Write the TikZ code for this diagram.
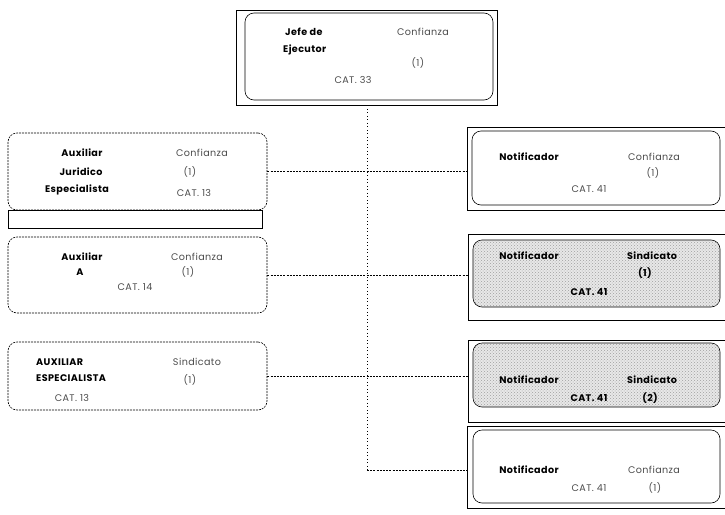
\documentclass[tikz,border=0pt]{standalone}
\usepackage{fontspec}
\setmainfont{Poppins}[LetterSpace=4]
\usetikzlibrary{patterns}
\begin{document}
\begin{tikzpicture}[x=1pt,y=-1pt,
  outerbox/.style={draw, line width=0.8pt, inner sep=0pt},
  roundbox/.style={draw, rounded corners=9pt, line width=0.6pt, inner sep=0pt},
  shadebox/.style={roundbox, fill=gray!18, postaction={pattern=crosshatch dots, pattern color=gray!75}},
  leftbox/.style={draw, rounded corners=9pt, line width=0.6pt, inner sep=0pt, dash pattern=on 2pt off 1pt},
  conn/.style={line width=0.6pt, dash pattern=on 2pt off 1.2pt},
  vline/.style={line width=0.5pt, dash pattern=on 1pt off 2.5pt},
  nm/.style={font=\bfseries\fontsize{9.6}{11}\selectfont, inner sep=0pt},
  lb/.style={font=\fontsize{9.6}{11}\selectfont, text=black!70, inner sep=0pt},
  lbb/.style={font=\bfseries\fontsize{9.6}{11}\selectfont, inner sep=0pt}]
\useasboundingbox (0,0) rectangle (725,514);

% ---- top box
\node[outerbox, minimum width=261pt, minimum height=95pt] (topo) at (366.5,57.5) {};
\node[roundbox, minimum width=248pt, minimum height=87pt] (topi) at (369,56.5) {};
\node[nm, anchor=west] (t1) at (285,32) {Jefe de};
\node[nm, anchor=west] (t2) at (283,50) {Ejecutor};
\node[lb] (t3) at (423,32) {Confianza};
\node[lb] (t4) at (418,63) {(1)};
\node[lb] (t5) at (353,80) {CAT. 33};

% ---- left boxes
\node[leftbox, minimum width=259pt, minimum height=77pt] (l1) at (137.5,171.5) {};
\node[outerbox, minimum width=254pt, minimum height=18pt] (l1s) at (135,219) {};
\node[nm] (l1a) at (82,153) {Auxiliar};
\node[nm] (l1b) at (81,172) {Juridico};
\node[nm] (l1c) at (77,190) {Especialista};
\node[lb] (l1d) at (202,153) {Confianza};
\node[lb] (l1e) at (190,172) {(1)};
\node[lb] (l1f) at (194,193) {CAT. 13};

\node[leftbox, minimum width=259pt, minimum height=76pt] (l2) at (137.5,275) {};
\node[nm] (l2a) at (82,257) {Auxiliar};
\node[nm] (l2b) at (80,272) {A};
\node[lb] (l2c) at (197,257) {Confianza};
\node[lb] (l2d) at (188,272) {(1)};
\node[lb] (l2e) at (135,287) {CAT. 14};

\node[leftbox, minimum width=259pt, minimum height=68pt] (l3) at (137.5,376) {};
\node[nm, anchor=west] (l3a) at (36,362) {AUXILIAR};
\node[nm, anchor=west] (l3b) at (36,378) {ESPECIALISTA};
\node[lb] (l3c) at (72,398) {CAT. 13};
\node[lb] (l3d) at (197,362) {Sindicato};
\node[lb] (l3e) at (190,380) {(1)};

% ---- right boxes
\node[outerbox, minimum width=258pt, minimum height=83pt] (r1o) at (596,168.5) {};
\node[roundbox, minimum width=248pt, minimum height=74pt] (r1) at (596,168) {};
\node[nm] (r1a) at (529,157) {Notificador};
\node[lb] (r1b) at (654,157) {Confianza};
\node[lb] (r1c) at (653,173) {(1)};
\node[lb] (r1d) at (589,189) {CAT. 41};

\node[outerbox, minimum width=257pt, minimum height=86pt] (r2o) at (596.5,277) {};
\node[shadebox, minimum width=247pt, minimum height=67pt] (r2) at (596.5,273.5) {};
\node[lbb] (r2a) at (529,256) {Notificador};
\node[lbb] (r2b) at (652,256) {Sindicato};
\node[lbb] (r2c) at (645,273) {(1)};
\node[lbb] (r2d) at (589,292) {CAT. 41};

\node[outerbox, minimum width=257pt, minimum height=82pt] (r3o) at (596.5,381) {};
\node[shadebox, minimum width=247pt, minimum height=64pt] (r3) at (596.5,375) {};
\node[lbb] (r3a) at (529,380) {Notificador};
\node[lbb] (r3b) at (652,380) {Sindicato};
\node[lbb] (r3c) at (589,398) {CAT. 41};
\node[lbb] (r3d) at (650,398) {(2)};

\node[outerbox, minimum width=258pt, minimum height=82pt] (r4o) at (596,467) {};
\node[roundbox, minimum width=247pt, minimum height=73pt] (r4) at (596.5,466.5) {};
\node[nm] (r4a) at (529,470) {Notificador};
\node[lb] (r4b) at (654,470) {Confianza};
\node[lb] (r4c) at (589,488) {CAT. 41};
\node[lb] (r4d) at (655,488) {(1)};

% ---- connectors
\coordinate (v4) at (367,470);
\draw[vline] (topo.south -| v4) -- (v4);
\draw[conn] (l1.east) -- (l1.east -| r1o.west);
\draw[conn] (l2.east) -- (l2.east -| r2o.west);
\draw[conn] (l3.east) -- (l3.east -| r3o.west);
\draw[conn] (v4) -- (v4 -| r4o.west);
\end{tikzpicture}
\end{document}
